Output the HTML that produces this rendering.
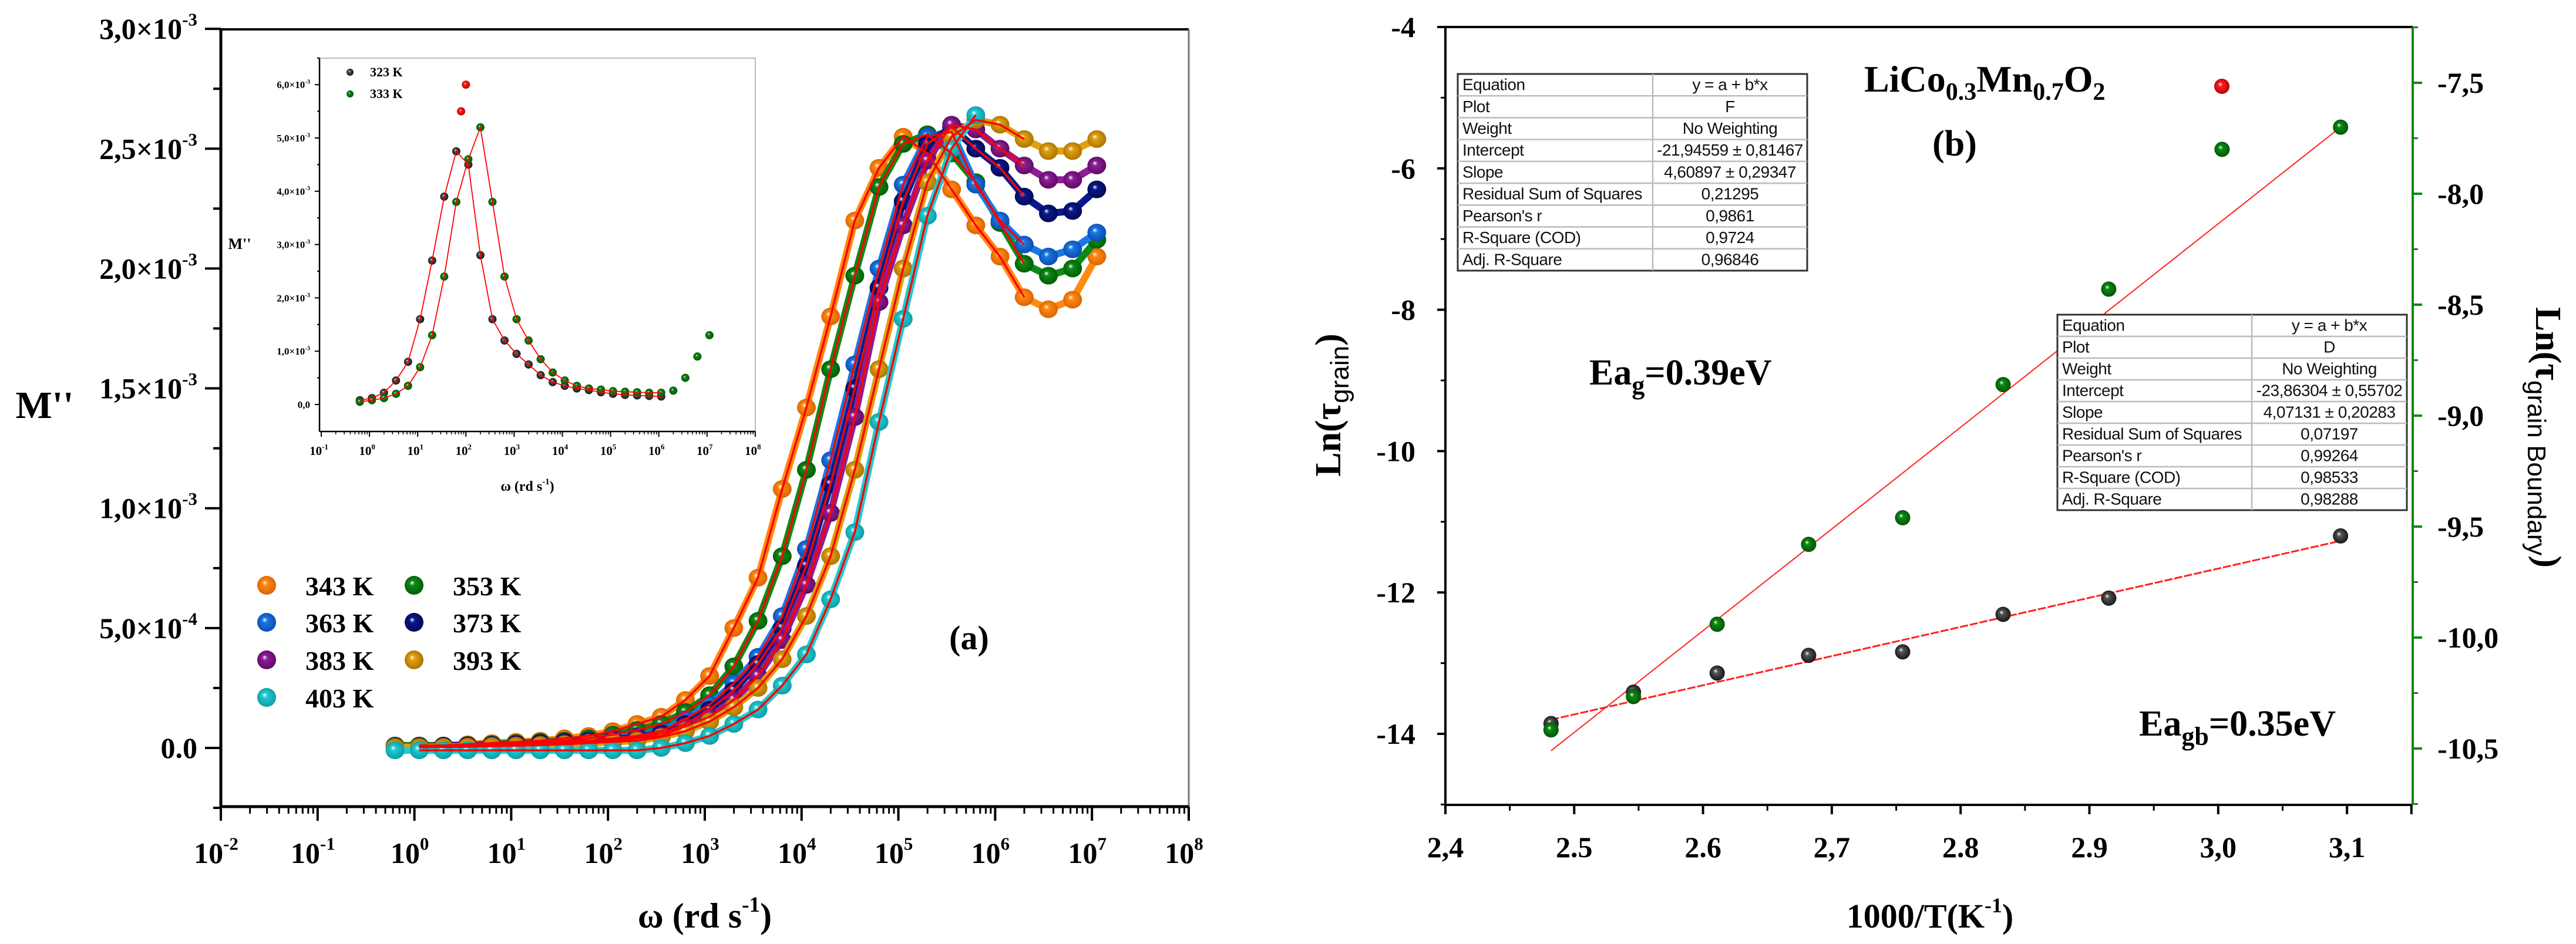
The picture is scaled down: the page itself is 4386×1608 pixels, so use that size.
<!DOCTYPE html>
<html><head><meta charset="utf-8">
<style>
html,body{margin:0;padding:0;background:#fff;}
svg{display:block;}
.t{font-family:"Liberation Serif",serif;font-weight:bold;fill:#000;}
.s{font-family:"Liberation Sans",sans-serif;fill:#111;}
</style></head>
<body>
<svg id="fig" width="4386" height="1608" viewBox="0 0 4386 1608" xmlns="http://www.w3.org/2000/svg">
<defs id="defs"></defs>
<g id="left"></g>
<g id="inset"></g>
<g id="right"></g>
</svg>
<script>
// ---------- Data: main chart (M'' in units of 1e-3 vs log10 omega) ----------
const logW = [-0.2,0.05,0.3,0.55,0.8,1.05,1.3,1.55,1.8,2.05,2.3,2.55,2.8,3.05,3.3,3.55,3.8,4.05,4.3,4.55,4.8,5.05,5.3,5.55,5.8,6.05,6.3,6.55,6.8,7.05];
const m343 = [0.01,0.01,0.01,0.015,0.02,0.025,0.03,0.04,0.05,0.07,0.10,0.13,0.20,0.30,0.50,0.71,1.08,1.42,1.80,2.20,2.42,2.55,2.48,2.33,2.18,2.05,1.88,1.83,1.87,2.05];
const m353 = [0.01,0.01,0.01,0.012,0.015,0.02,0.025,0.03,0.04,0.055,0.075,0.10,0.15,0.22,0.34,0.53,0.80,1.16,1.58,1.97,2.34,2.52,2.56,2.48,2.36,2.19,2.02,1.97,2.00,2.12];
const m363 = [0.005,0.005,0.008,0.01,0.012,0.015,0.02,0.025,0.03,0.04,0.05,0.07,0.12,0.18,0.27,0.38,0.55,0.83,1.20,1.60,2.00,2.35,2.55,2.57,2.35,2.20,2.10,2.05,2.08,2.15];
const m373 = [0.005,0.005,0.008,0.01,0.012,0.015,0.02,0.025,0.03,0.035,0.045,0.06,0.10,0.16,0.24,0.35,0.50,0.76,1.10,1.50,1.92,2.28,2.52,2.59,2.50,2.42,2.30,2.23,2.24,2.33];
const m383 = [0.005,0.005,0.005,0.008,0.01,0.012,0.015,0.02,0.025,0.03,0.04,0.05,0.09,0.13,0.20,0.30,0.45,0.68,0.98,1.38,1.86,2.18,2.45,2.60,2.58,2.50,2.43,2.37,2.37,2.43];
const m393 = [0.003,0.003,0.004,0.005,0.007,0.009,0.012,0.015,0.02,0.025,0.03,0.045,0.07,0.11,0.17,0.25,0.37,0.55,0.80,1.16,1.58,2.00,2.36,2.55,2.62,2.60,2.54,2.49,2.49,2.54];
const m403 = [-0.01,-0.01,-0.01,-0.01,-0.01,-0.01,-0.01,-0.01,-0.01,-0.01,-0.01,0.0,0.02,0.05,0.10,0.16,0.26,0.39,0.62,0.90,1.36,1.79,2.22,2.50,2.64,null,null,null,null,null];
const seriesLabels = ["343 K","353 K","363 K","373 K","383 K","393 K","403 K"];
const yTicksMain = [0,0.5,1.0,1.5,2.0,2.5,3.0];
const yTickLabelsMain = [["0.0",""],["5,0×10","-4"],["1,0×10","-3"],["1,5×10","-3"],["2,0×10","-3"],["2,5×10","-3"],["3,0×10","-3"]];
const xDecadesMain = [-2,-1,0,1,2,3,4,5,6,7,8];

// ---------- Data: inset ----------
const logWInset = [-0.2,0.05,0.3,0.55,0.8,1.05,1.3,1.55,1.8,2.05,2.3,2.55,2.8,3.05,3.3,3.55,3.8,4.05,4.3,4.55,4.8,5.05,5.3,5.55,5.8,6.05,6.3,6.55,6.8,7.05];
const i323 = [0.08,0.12,0.22,0.45,0.8,1.6,2.7,3.9,4.75,4.5,2.8,1.6,1.2,0.95,0.75,0.55,0.42,0.35,0.30,0.27,0.23,0.20,0.18,0.17,0.16,0.15,null,null,null,null];
const i333 = [0.05,0.08,0.12,0.2,0.35,0.7,1.3,2.4,3.8,4.6,5.2,3.8,2.4,1.6,1.2,0.85,0.6,0.45,0.35,0.30,0.28,0.25,0.24,0.23,0.22,0.22,0.26,0.5,0.9,1.3];
const insetOutlierX = [1.9,2.0];
const insetOutlierY = [5.5,6.0];
const yTicksInset = [0,1,2,3,4,5,6];
const xDecadesInset = [-1,0,1,2,3,4,5,6,7,8];

// ---------- Data: Arrhenius chart ----------
const invT = [2.482,2.546,2.611,2.682,2.755,2.833,2.915,3.003,3.095];
const lnTauGB = [-10.416,-10.266,-9.94,-9.58,-9.46,-8.86,-8.43,-7.80,-7.70];
const invTg = [2.482,2.546,2.611,2.682,2.755,2.833,2.915,3.095];
const lnTauG = [-13.855,-13.41,-13.14,-12.89,-12.84,-12.31,-12.08,-11.20];
const fitGBx = [2.482,3.095];
const fitGBy = [-10.51,-7.70];
const fitGx = [2.482,3.095];
const fitGy = [-13.80,-11.27];
const xTicksR = [2.4,2.5,2.6,2.7,2.8,2.9,3.0,3.1];
const xTickLabelsR = ["2,4","2.5","2.6","2,7","2.8","2.9","3,0","3,1"];
const yTicksRL = [-4,-6,-8,-10,-12,-14];
const yTicksRR = [-7.5,-8.0,-8.5,-9.0,-9.5,-10.0,-10.5];
const yTickLabelsRR = ["-7,5","-8,0","-8,5","-9,0","-9,5","-10,0","-10,5"];
const table1Rows = [["Equation","y = a + b*x"],["Plot","F"],["Weight","No Weighting"],["Intercept","-21,94559 ± 0,81467"],["Slope","4,60897 ± 0,29347"],["Residual Sum of Squares","0,21295"],["Pearson's r","0,9861"],["R-Square (COD)","0,9724"],["Adj. R-Square","0,96846"]];
const table2Rows = [["Equation","y = a + b*x"],["Plot","D"],["Weight","No Weighting"],["Intercept","-23,86304 ± 0,55702"],["Slope","4,07131 ± 0,20283"],["Residual Sum of Squares","0,07197"],["Pearson's r","0,99264"],["R-Square (COD)","0,98533"],["Adj. R-Square","0,98288"]];

// ---------- helpers ----------
const NS = "http://www.w3.org/2000/svg";
function add(parent, tag, attrs, name){
  const el = document.createElementNS(NS, tag);
  for (const k in attrs) el.setAttribute(k, attrs[k]);
  
  
  parent.appendChild(el);
  return el;
}
function text(parent, x, y, str, cls, size, anchor, name, fill){
  const el = add(parent, 'text', {x:x, y:y, class:cls, 'font-size':size, 'text-anchor':anchor||'start'}, name);
  if (fill) el.setAttribute('fill', fill);
  el.textContent = str;
  return el;
}
function sup(parent, x, y, base, exp, size, anchor, name, cls, tail){
  const el = add(parent, 'text', {x:x, y:y, class:cls||'t', 'font-size':size, 'text-anchor':anchor||'start'}, name);
  const a = document.createElementNS(NS,'tspan'); a.textContent = base; el.appendChild(a);
  if (exp){
    const b = document.createElementNS(NS,'tspan');
    b.setAttribute('dy', -size*0.45); b.setAttribute('font-size', size*0.62); b.textContent = exp; el.appendChild(b);
    if (tail){
      const c = document.createElementNS(NS,'tspan');
      c.setAttribute('dy', size*0.45); c.textContent = tail; el.appendChild(c);
    }
  }
  return el;
}
const defs = document.getElementById('defs');
function grad(id, col, dark){
  const g = add(defs, 'radialGradient', {id:id, cx:'50%', cy:'50%', r:'55%', fx:'38%', fy:'35%'}, 'gradient-'+id);
  add(g,'stop',{offset:'0%','stop-color':'#ffffff'}, 'stop');
  add(g,'stop',{offset:'25%','stop-color':col}, 'stop');
  add(g,'stop',{offset:'100%','stop-color':dark}, 'stop');
}
const colors = ["#ff8a10","#0c8a18","#1a78e6","#0a1a8c","#8e1e96","#e0a010","#22cad2"];
const darks  = ["#d86000","#005a00","#0a4aa8","#000850","#5a0a60","#a87000","#0a9aa0"];
colors.forEach((c,i)=>grad('g'+i, c, darks[i]));
grad('gblack', '#555555', '#111111');
grad('ggreen', '#0c8a18', '#005000');
grad('gred', '#ff2020', '#b00000');

// ================= LEFT CHART =================
const L = document.getElementById('left');
const LX0=376, LX1=2024, LY0=50, LY1=1374;
const xL = d => LX0 + (d+2)*164.8;
const yL = v => 1274 - v*408.3;
add(L,'rect',{x:0,y:0,width:2190,height:1608,fill:'#fff'},'left-background');
add(L,'line',{x1:LX0,y1:LY0,x2:LX1,y2:LY0,stroke:'#000','stroke-width':4},'top-axis-line');
add(L,'line',{x1:LX1,y1:LY0,x2:LX1,y2:LY1,stroke:'#777','stroke-width':3},'right-axis-line');
yTicksMain.forEach((v,i)=>{
  add(L,'line',{x1:LX0-27,y1:yL(v),x2:LX0,y2:yL(v),stroke:'#000','stroke-width':4},'y-tick');
  add(L,'line',{x1:LX0-13,y1:yL(v+0.25),x2:LX0,y2:yL(v+0.25),stroke:'#000','stroke-width':4},'y-minor-tick');
  const lab = yTickLabelsMain[i];
  sup(L, 336, yL(v)+17, lab[0], lab[1], 50, 'end', 'y-tick-label');
});
add(L,'line',{x1:LX0-13,y1:yL(-0.25),x2:LX0,y2:yL(-0.25),stroke:'#000','stroke-width':4},'y-minor-tick');
xDecadesMain.forEach(d=>{
  add(L,'line',{x1:xL(d),y1:LY1,x2:xL(d),y2:LY1+24,stroke:'#000','stroke-width':4},'x-tick');
  if (d<8) for (let k=2;k<10;k++){
    const xx = xL(d+Math.log10(k));
    add(L,'line',{x1:xx,y1:LY1,x2:xx,y2:LY1+12,stroke:'#000','stroke-width':3},'x-minor-tick');
  }
  sup(L, xL(d)-8, 1470, '10', String(d), 50, 'middle', 'x-tick-label');
});
add(L,'line',{x1:LX0,y1:LY0,x2:LX0,y2:LY1,stroke:'#000','stroke-width':5},'y-axis-line');
add(L,'line',{x1:LX0,y1:LY1,x2:LX1,y2:LY1,stroke:'#000','stroke-width':5},'x-axis-line');
text(L, 76, 712, "M''", 't', 66, 'middle', 'y-axis-title');
sup(L, 1200, 1580, 'ω (rd s', '-1', 60, 'middle', 'x-axis-title', 't', ')');
text(L, 1650, 1106, '(a)', 't', 58, 'middle', 'panel-label-a');

const mainSeries = [m343,m353,m363,m373,m383,m393,m403];
const seriesNames = ['series-343k','series-353k','series-363k','series-373k','series-383k','series-393k','series-403k'];
mainSeries.forEach((arr,si)=>{
  const g = add(L,'g',{},seriesNames[si]);
  let pts=[];
  arr.forEach((v,i)=>{ if(v!==null) pts.push(xL(logW[i]).toFixed(1)+','+yL(v).toFixed(1)); });
  add(g,'polyline',{points:pts.join(' '),fill:'none',stroke:colors[si],'stroke-width':12,'stroke-linejoin':'round','stroke-linecap':'round'},'series-band');
  arr.forEach((v,i)=>{
    if(v===null) return;
    add(g,'ellipse',{cx:xL(logW[i]),cy:yL(v),rx:16,ry:15,fill:'url(#g'+si+')'},'data-point');
  });
});
mainSeries.forEach((arr,si)=>{
  let pts=[];
  arr.forEach((v,i)=>{ if(v!==null && i>=1 && i<=26) pts.push(xL(logW[i]).toFixed(1)+','+yL(v).toFixed(1)); });
  add(L,'polyline',{points:pts.join(' '),fill:'none',stroke:'#ff0000','stroke-width':3.5,'stroke-linejoin':'round'},'fit-line');
});
const legX = [454,705], legRows=[997,1060,1124,1188];
seriesLabels.forEach((lab,i)=>{
  const col=i%2, row=Math.floor(i/2);
  const lg = add(L,'g',{},'legend-entry');
  add(lg,'ellipse',{cx:legX[col],cy:legRows[row],rx:16,ry:16,fill:'url(#g'+i+')'},'legend-marker');
  text(lg, legX[col]+66, legRows[row]+17, lab, 't', 46, 'start', 'legend-label');
});

// ================= INSET =================
const I = document.getElementById('inset');
const IX0=544, IX1=1286, IY0=99, IY1=735;
const xI = d => 547 + (d+1)*82.1;
const yI = v => 689 - v*90.8;
add(I,'rect',{x:IX0,y:IY0,width:IX1-IX0,height:IY1-IY0,fill:'#fff',stroke:'#bbb','stroke-width':2},'inset-frame');
add(I,'line',{x1:IX0,y1:IY0,x2:IX0,y2:IY1,stroke:'#000','stroke-width':2.5},'inset-y-axis');
add(I,'line',{x1:IX0,y1:IY1,x2:IX1,y2:IY1,stroke:'#000','stroke-width':2.5},'inset-x-axis');
yTicksInset.forEach(v=>{
  add(I,'line',{x1:IX0-8,y1:yI(v),x2:IX0,y2:yI(v),stroke:'#000','stroke-width':2},'inset-y-tick');
  add(I,'line',{x1:IX0-4,y1:yI(v+0.5),x2:IX0,y2:yI(v+0.5),stroke:'#000','stroke-width':2},'inset-y-minor-tick');
  sup(I, 528, yI(v)+6, v===0?'0,0':(v.toFixed(1).replace('.',',')+'×10'), v===0?'':'-3', 17, 'end', 'inset-y-tick-label');
});
xDecadesInset.forEach(d=>{
  add(I,'line',{x1:xI(d),y1:IY1,x2:xI(d),y2:IY1+9,stroke:'#000','stroke-width':2},'inset-x-tick');
  if (d<8) for (let k=2;k<10;k++){
    const xx=xI(d+Math.log10(k));
    add(I,'line',{x1:xx,y1:IY1,x2:xx,y2:IY1+5,stroke:'#000','stroke-width':1.5},'inset-x-minor-tick');
  }
  sup(I, xI(d)-4, 775, '10', String(d), 21, 'middle', 'inset-x-tick-label');
});
text(I, 408, 424, "M''", 't', 26, 'middle', 'inset-y-axis-title');
sup(I, 898, 836, 'ω (rd s', '-1', 24, 'middle', 'inset-x-axis-title', 't', ')');
[[i323,'gblack','inset-series-323k'],[i333,'ggreen','inset-series-333k']].forEach(([arr,gid,nm])=>{
  const g = add(I,'g',{},nm);
  arr.forEach((v,i)=>{ if(v===null) return;
    add(g,'circle',{cx:xI(logWInset[i]),cy:yI(v),r:7,fill:'url(#'+gid+')'},'inset-point');
  });
});
insetOutlierX.forEach((d,i)=>{
  add(I,'circle',{cx:xI(d),cy:yI(insetOutlierY[i]),r:7,fill:'url(#gred)'},'inset-outlier-point');
});
[i323,i333].forEach(arr=>{
  let pts=[];
  arr.forEach((v,i)=>{ if(v!==null && i<=25) pts.push(xI(logWInset[i]).toFixed(1)+','+yI(v).toFixed(1)); });
  add(I,'polyline',{points:pts.join(' '),fill:'none',stroke:'#ff0000','stroke-width':1.8},'inset-fit-line');
});
const il1 = add(I,'g',{},'inset-legend-entry');
add(il1,'circle',{cx:596,cy:123,r:6,fill:'url(#gblack)'},'inset-legend-marker');
text(il1, 630, 130, '323 K', 't', 22, 'start', 'inset-legend-label');
const il2 = add(I,'g',{},'inset-legend-entry');
add(il2,'circle',{cx:596,cy:160,r:6,fill:'url(#ggreen)'},'inset-legend-marker');
text(il2, 630, 167, '333 K', 't', 22, 'start', 'inset-legend-label');

// ================= RIGHT CHART =================
const R = document.getElementById('right');
const RX0=2461, RX1=4108, RY0=46, RY1=1371;
const xR = t => RX0 + (t-2.4)*2193;
const yRL = v => 46 + (-4 - v)*120.4;
const yRR = v => 141 + (-7.5 - v)*378;
add(R,'line',{x1:RX0,y1:RY0,x2:RX1,y2:RY0,stroke:'#000','stroke-width':4},'top-axis-line-b');
add(R,'line',{x1:RX0,y1:RY0,x2:RX0,y2:RY1,stroke:'#000','stroke-width':4},'left-y-axis-line');
add(R,'line',{x1:RX0,y1:RY1,x2:RX1,y2:RY1,stroke:'#000','stroke-width':4},'x-axis-line-b');
add(R,'line',{x1:RX1,y1:RY0,x2:RX1,y2:RY1,stroke:'#0a8a0a','stroke-width':4},'right-y-axis-line');
yTicksRL.forEach(v=>{
  add(R,'line',{x1:RX0-14,y1:yRL(v),x2:RX0,y2:yRL(v),stroke:'#000','stroke-width':4},'left-y-tick');
  add(R,'line',{x1:RX0-8,y1:yRL(v-1),x2:RX0,y2:yRL(v-1),stroke:'#000','stroke-width':3},'left-y-minor-tick');
  text(R, 2410, yRL(v)+17, String(v), 't', 50, 'end', 'left-y-tick-label');
});
yTicksRR.forEach((v,i)=>{
  add(R,'line',{x1:RX1,y1:yRR(v),x2:RX1+16,y2:yRR(v),stroke:'#0a8a0a','stroke-width':4},'right-y-tick');
  add(R,'line',{x1:RX1,y1:yRR(v-0.25),x2:RX1+9,y2:yRR(v-0.25),stroke:'#0a8a0a','stroke-width':3},'right-y-minor-tick');
  text(R, 4150, yRR(v)+17, yTickLabelsRR[i], 't', 50, 'start', 'right-y-tick-label', '#0a8a0a');
});
add(R,'line',{x1:RX1,y1:yRR(-7.25),x2:RX1+9,y2:yRR(-7.25),stroke:'#0a8a0a','stroke-width':3},'right-y-minor-tick');
xTicksR.forEach((t,i)=>{
  add(R,'line',{x1:xR(t),y1:RY1,x2:xR(t),y2:RY1+16,stroke:'#000','stroke-width':4},'x-tick-b');
  add(R,'line',{x1:xR(t+0.05),y1:RY1,x2:xR(t+0.05),y2:RY1+10,stroke:'#000','stroke-width':3},'x-minor-tick-b');
  text(R, xR(t), 1460, xTickLabelsR[i], 't', 50, 'middle', 'x-tick-label-b');
});
add(R,'line',{x1:xR(3.15),y1:RY1,x2:xR(3.15),y2:RY1+16,stroke:'#000','stroke-width':4},'x-tick-b');
sup(R, 3286, 1580, '1000/T(K', '-1', 58, 'middle', 'x-axis-title-b', 't', ')');
const lt = add(R,'text',{x:0,y:0,class:'t','font-size':62,'text-anchor':'middle',transform:'translate(2282,690) rotate(-90)'},'left-y-axis-title');
lt.innerHTML = 'Ln(τ<tspan dy="14" font-size="44" font-family="Liberation Sans, sans-serif" font-weight="normal">grain</tspan><tspan dy="-14">)</tspan>';
const rt = add(R,'text',{x:0,y:0,class:'t','font-size':62,'text-anchor':'middle',fill:'#0a8a0a',transform:'translate(4318,745) rotate(90)'},'right-y-axis-title');
rt.innerHTML = 'Ln(τ<tspan dy="14" font-size="44" font-family="Liberation Sans, sans-serif" font-weight="normal">grain Boundary</tspan><tspan dy="-14">)</tspan>';
const tt = add(R,'text',{x:3174,y:156,class:'t','font-size':64},'compound-title');
tt.innerHTML = 'LiCo<tspan dy="14" font-size="42">0.3</tspan><tspan dy="-14">Mn</tspan><tspan dy="14" font-size="42">0.7</tspan><tspan dy="-14">O</tspan><tspan dy="14" font-size="42">2</tspan>';
text(R, 3328, 265, '(b)', 't', 62, 'middle', 'panel-label-b');
const ea1 = add(R,'text',{x:2706,y:655,class:'t','font-size':62},'activation-energy-grain');
ea1.innerHTML = 'Ea<tspan dy="16" font-size="44">g</tspan><tspan dy="-16">=0.39eV</tspan>';
const ea2 = add(R,'text',{x:3642,y:1253,class:'t','font-size':62},'activation-energy-grain-boundary');
ea2.innerHTML = 'Ea<tspan dy="16" font-size="44">gb</tspan><tspan dy="-16">=0.35eV</tspan>';
add(R,'line',{x1:xR(fitGBx[0]),y1:yRR(fitGBy[0]),x2:xR(fitGBx[1]),y2:yRR(fitGBy[1]),stroke:'#ff2020','stroke-width':2},'fit-line-grain-boundary');
add(R,'line',{x1:xR(fitGx[0]),y1:yRL(fitGy[0]),x2:xR(fitGx[1]),y2:yRL(fitGy[1]),stroke:'#ff2020','stroke-width':3,'stroke-dasharray':'14 3'},'fit-line-grain');
const gG = add(R,'g',{},'series-grain');
invTg.forEach((t,i)=>{ add(gG,'circle',{cx:xR(t),cy:yRL(lnTauG[i]),r:13,fill:'url(#gblack)'},'grain-point'); });
const gB = add(R,'g',{},'series-grain-boundary');
invT.forEach((t,i)=>{ add(gB,'circle',{cx:xR(t),cy:yRR(lnTauGB[i]),r:13,fill:'url(#ggreen)'},'grain-boundary-point'); });
add(R,'circle',{cx:3783,cy:147,r:13,fill:'url(#gred)'},'legend-marker-red');
function table(x0,y0,x1,y1,split,rows,name){
  const g = add(R,'g',{},name);
  const rh=(y1-y0)/rows.length;
  add(g,'rect',{x:x0,y:y0,width:x1-x0,height:y1-y0,fill:'#fff',stroke:'#333','stroke-width':3},'table-frame');
  for(let i=1;i<rows.length;i++) add(g,'line',{x1:x0,y1:y0+i*rh,x2:x1,y2:y0+i*rh,stroke:'#bbb','stroke-width':2.5},'table-row-divider');
  add(g,'line',{x1:split,y1:y0,x2:split,y2:y1,stroke:'#bbb','stroke-width':2.5},'table-column-divider');
  rows.forEach((r,i)=>{
    const a = text(g, x0+8, y0+i*rh+rh*0.74, r[0], 's', 28, 'start', 'table-key');
    a.setAttribute('letter-spacing','-0.5');
    const b = text(g, (split+x1)/2, y0+i*rh+rh*0.74, r[1], 's', 28, 'middle', 'table-value');
    b.setAttribute('letter-spacing','-0.5');
  });
}
table(2482,126,3077,461,2814,table1Rows,'fit-table-grain-boundary');
table(3503,536,4098,869,3834,table2Rows,'fit-table-grain');
</script>
</body></html>
